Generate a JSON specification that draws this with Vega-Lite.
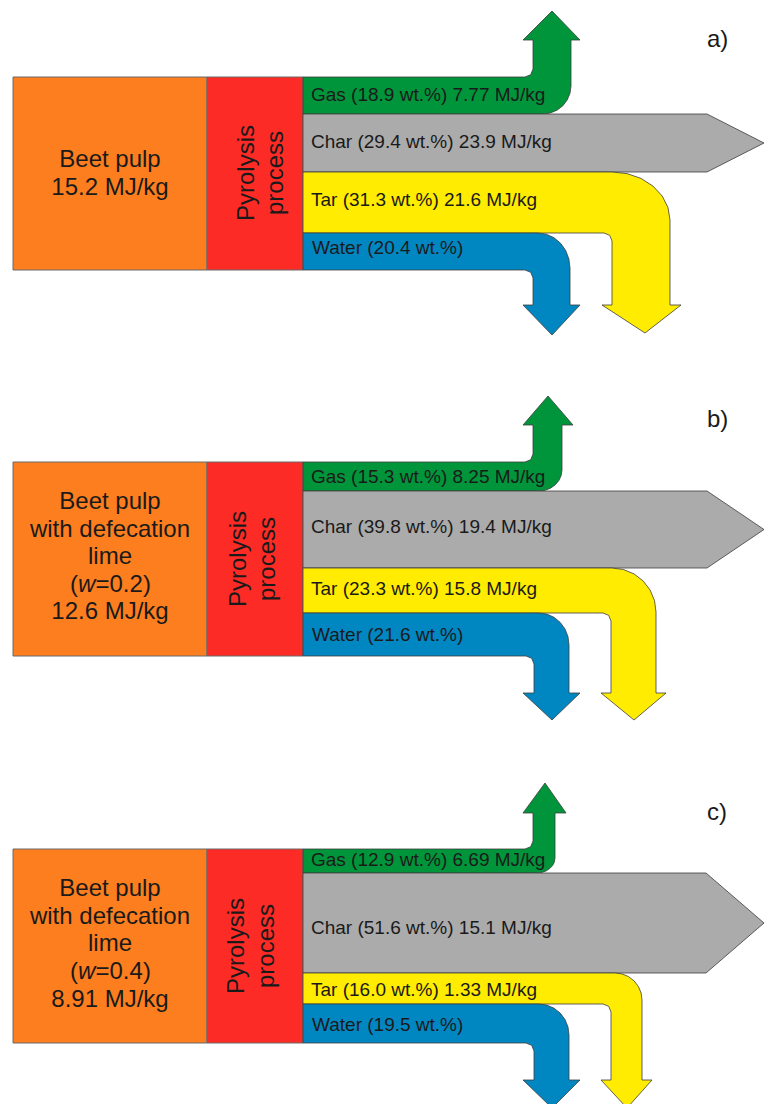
{
"$schema": "https://vega.github.io/schema/vega-lite/v6.json",
"width": 764, "height": 1104,
"autosize": {"type": "none"},
"padding": 0,
"background": "white",
"config": {"view": {"stroke": null}},
"datasets": {
"boxes": [
{"part":"feed","x":13,"x2":207,"y":77,"y2":270},
{"part":"process","x":207,"x2":303,"y":77,"y2":270},
{"part":"feed","x":13,"x2":207,"y":462,"y2":656},
{"part":"process","x":207,"x2":303,"y":462,"y2":656},
{"part":"feed","x":13,"x2":207,"y":849,"y2":1043},
{"part":"process","x":207,"x2":303,"y":849,"y2":1043}
],
"poly": [
{"shape":"a_gas","part":"Gas","i":0,"x":303,"y":77},
{"shape":"a_gas","part":"Gas","i":1,"x":525,"y":77},
{"shape":"a_gas","part":"Gas","i":2,"x":530.7,"y":74.7},
{"shape":"a_gas","part":"Gas","i":3,"x":533,"y":69},
{"shape":"a_gas","part":"Gas","i":4,"x":533,"y":40},
{"shape":"a_gas","part":"Gas","i":5,"x":523,"y":40},
{"shape":"a_gas","part":"Gas","i":6,"x":552,"y":11},
{"shape":"a_gas","part":"Gas","i":7,"x":580,"y":40},
{"shape":"a_gas","part":"Gas","i":8,"x":571,"y":40},
{"shape":"a_gas","part":"Gas","i":9,"x":571,"y":86},
{"shape":"a_gas","part":"Gas","i":10,"x":570,"y":93.2},
{"shape":"a_gas","part":"Gas","i":11,"x":567.2,"y":100},
{"shape":"a_gas","part":"Gas","i":12,"x":562.8,"y":105.8},
{"shape":"a_gas","part":"Gas","i":13,"x":557,"y":110.2},
{"shape":"a_gas","part":"Gas","i":14,"x":550.2,"y":113},
{"shape":"a_gas","part":"Gas","i":15,"x":543,"y":114},
{"shape":"a_gas","part":"Gas","i":16,"x":303,"y":114},
{"shape":"a_gas","part":"Gas","i":17,"x":303,"y":77},

{"shape":"a_char","part":"Char","i":0,"x":303,"y":114},
{"shape":"a_char","part":"Char","i":1,"x":707,"y":114},
{"shape":"a_char","part":"Char","i":2,"x":764,"y":143},
{"shape":"a_char","part":"Char","i":3,"x":707,"y":172},
{"shape":"a_char","part":"Char","i":4,"x":303,"y":172},
{"shape":"a_char","part":"Char","i":5,"x":303,"y":114},

{"shape":"a_tar","part":"Tar","i":0,"x":303,"y":172},
{"shape":"a_tar","part":"Tar","i":1,"x":612,"y":172},
{"shape":"a_tar","part":"Tar","i":2,"x":627,"y":173.6},
{"shape":"a_tar","part":"Tar","i":3,"x":641,"y":178.4},
{"shape":"a_tar","part":"Tar","i":4,"x":653,"y":186.1},
{"shape":"a_tar","part":"Tar","i":5,"x":662.2,"y":196},
{"shape":"a_tar","part":"Tar","i":6,"x":668,"y":207.6},
{"shape":"a_tar","part":"Tar","i":7,"x":670,"y":220},
{"shape":"a_tar","part":"Tar","i":8,"x":670,"y":305},
{"shape":"a_tar","part":"Tar","i":9,"x":681,"y":305},
{"shape":"a_tar","part":"Tar","i":10,"x":645,"y":333},
{"shape":"a_tar","part":"Tar","i":11,"x":602,"y":305},
{"shape":"a_tar","part":"Tar","i":12,"x":612,"y":305},
{"shape":"a_tar","part":"Tar","i":13,"x":612,"y":241},
{"shape":"a_tar","part":"Tar","i":14,"x":609.7,"y":235.3},
{"shape":"a_tar","part":"Tar","i":15,"x":604,"y":233},
{"shape":"a_tar","part":"Tar","i":16,"x":303,"y":233},
{"shape":"a_tar","part":"Tar","i":17,"x":303,"y":172},

{"shape":"a_water","part":"Water","i":0,"x":303,"y":233},
{"shape":"a_water","part":"Water","i":1,"x":538,"y":233},
{"shape":"a_water","part":"Water","i":2,"x":546.3,"y":234.2},
{"shape":"a_water","part":"Water","i":3,"x":554,"y":237.7},
{"shape":"a_water","part":"Water","i":4,"x":560.6,"y":243.3},
{"shape":"a_water","part":"Water","i":5,"x":565.7,"y":250.5},
{"shape":"a_water","part":"Water","i":6,"x":568.9,"y":259},
{"shape":"a_water","part":"Water","i":7,"x":570,"y":268},
{"shape":"a_water","part":"Water","i":8,"x":570,"y":305},
{"shape":"a_water","part":"Water","i":9,"x":580,"y":305},
{"shape":"a_water","part":"Water","i":10,"x":552,"y":335},
{"shape":"a_water","part":"Water","i":11,"x":523,"y":305},
{"shape":"a_water","part":"Water","i":12,"x":533,"y":305},
{"shape":"a_water","part":"Water","i":13,"x":533,"y":278},
{"shape":"a_water","part":"Water","i":14,"x":530.7,"y":272.3},
{"shape":"a_water","part":"Water","i":15,"x":525,"y":270},
{"shape":"a_water","part":"Water","i":16,"x":303,"y":270},
{"shape":"a_water","part":"Water","i":17,"x":303,"y":233},

{"shape":"b_gas","part":"Gas","i":0,"x":303,"y":462},
{"shape":"b_gas","part":"Gas","i":1,"x":525,"y":462},
{"shape":"b_gas","part":"Gas","i":2,"x":530.7,"y":459.7},
{"shape":"b_gas","part":"Gas","i":3,"x":533,"y":454},
{"shape":"b_gas","part":"Gas","i":4,"x":533,"y":425},
{"shape":"b_gas","part":"Gas","i":5,"x":523,"y":425},
{"shape":"b_gas","part":"Gas","i":6,"x":548,"y":396},
{"shape":"b_gas","part":"Gas","i":7,"x":573,"y":425},
{"shape":"b_gas","part":"Gas","i":8,"x":562,"y":425},
{"shape":"b_gas","part":"Gas","i":9,"x":562,"y":470},
{"shape":"b_gas","part":"Gas","i":10,"x":561.2,"y":475.4},
{"shape":"b_gas","part":"Gas","i":11,"x":558.9,"y":480.5},
{"shape":"b_gas","part":"Gas","i":12,"x":555.3,"y":484.8},
{"shape":"b_gas","part":"Gas","i":13,"x":550.5,"y":488.2},
{"shape":"b_gas","part":"Gas","i":14,"x":545,"y":490.3},
{"shape":"b_gas","part":"Gas","i":15,"x":539,"y":491},
{"shape":"b_gas","part":"Gas","i":16,"x":303,"y":491},
{"shape":"b_gas","part":"Gas","i":17,"x":303,"y":462},

{"shape":"b_char","part":"Char","i":0,"x":303,"y":491},
{"shape":"b_char","part":"Char","i":1,"x":707,"y":491},
{"shape":"b_char","part":"Char","i":2,"x":764,"y":529.5},
{"shape":"b_char","part":"Char","i":3,"x":707,"y":568},
{"shape":"b_char","part":"Char","i":4,"x":303,"y":568},
{"shape":"b_char","part":"Char","i":5,"x":303,"y":491},

{"shape":"b_tar","part":"Tar","i":0,"x":303,"y":568},
{"shape":"b_tar","part":"Tar","i":1,"x":612,"y":568},
{"shape":"b_tar","part":"Tar","i":2,"x":623.4,"y":569.5},
{"shape":"b_tar","part":"Tar","i":3,"x":634,"y":573.9},
{"shape":"b_tar","part":"Tar","i":4,"x":643.1,"y":580.9},
{"shape":"b_tar","part":"Tar","i":5,"x":650.1,"y":590},
{"shape":"b_tar","part":"Tar","i":6,"x":654.5,"y":600.6},
{"shape":"b_tar","part":"Tar","i":7,"x":656,"y":612},
{"shape":"b_tar","part":"Tar","i":8,"x":656,"y":693},
{"shape":"b_tar","part":"Tar","i":9,"x":666,"y":693},
{"shape":"b_tar","part":"Tar","i":10,"x":634,"y":720},
{"shape":"b_tar","part":"Tar","i":11,"x":601,"y":693},
{"shape":"b_tar","part":"Tar","i":12,"x":611,"y":693},
{"shape":"b_tar","part":"Tar","i":13,"x":611,"y":621},
{"shape":"b_tar","part":"Tar","i":14,"x":608.7,"y":615.3},
{"shape":"b_tar","part":"Tar","i":15,"x":603,"y":613},
{"shape":"b_tar","part":"Tar","i":16,"x":303,"y":613},
{"shape":"b_tar","part":"Tar","i":17,"x":303,"y":568},

{"shape":"b_water","part":"Water","i":0,"x":303,"y":613},
{"shape":"b_water","part":"Water","i":1,"x":539,"y":613},
{"shape":"b_water","part":"Water","i":2,"x":546.8,"y":614.1},
{"shape":"b_water","part":"Water","i":3,"x":554,"y":617.3},
{"shape":"b_water","part":"Water","i":4,"x":560.2,"y":622.4},
{"shape":"b_water","part":"Water","i":5,"x":565,"y":629},
{"shape":"b_water","part":"Water","i":6,"x":568,"y":636.7},
{"shape":"b_water","part":"Water","i":7,"x":569,"y":645},
{"shape":"b_water","part":"Water","i":8,"x":569,"y":693},
{"shape":"b_water","part":"Water","i":9,"x":580,"y":693},
{"shape":"b_water","part":"Water","i":10,"x":552,"y":720},
{"shape":"b_water","part":"Water","i":11,"x":523,"y":693},
{"shape":"b_water","part":"Water","i":12,"x":534,"y":693},
{"shape":"b_water","part":"Water","i":13,"x":534,"y":664},
{"shape":"b_water","part":"Water","i":14,"x":531.7,"y":658.3},
{"shape":"b_water","part":"Water","i":15,"x":526,"y":656},
{"shape":"b_water","part":"Water","i":16,"x":303,"y":656},
{"shape":"b_water","part":"Water","i":17,"x":303,"y":613},

{"shape":"c_gas","part":"Gas","i":0,"x":303,"y":849},
{"shape":"c_gas","part":"Gas","i":1,"x":525,"y":849},
{"shape":"c_gas","part":"Gas","i":2,"x":530.7,"y":846.7},
{"shape":"c_gas","part":"Gas","i":3,"x":533,"y":841},
{"shape":"c_gas","part":"Gas","i":4,"x":533,"y":813},
{"shape":"c_gas","part":"Gas","i":5,"x":523,"y":813},
{"shape":"c_gas","part":"Gas","i":6,"x":545,"y":783},
{"shape":"c_gas","part":"Gas","i":7,"x":566,"y":813},
{"shape":"c_gas","part":"Gas","i":8,"x":555,"y":813},
{"shape":"c_gas","part":"Gas","i":9,"x":555,"y":858},
{"shape":"c_gas","part":"Gas","i":10,"x":554.4,"y":861.9},
{"shape":"c_gas","part":"Gas","i":11,"x":552.6,"y":865.5},
{"shape":"c_gas","part":"Gas","i":12,"x":549.7,"y":868.6},
{"shape":"c_gas","part":"Gas","i":13,"x":546,"y":871},
{"shape":"c_gas","part":"Gas","i":14,"x":541.7,"y":872.5},
{"shape":"c_gas","part":"Gas","i":15,"x":537,"y":873},
{"shape":"c_gas","part":"Gas","i":16,"x":303,"y":873},
{"shape":"c_gas","part":"Gas","i":17,"x":303,"y":849},

{"shape":"c_char","part":"Char","i":0,"x":303,"y":873},
{"shape":"c_char","part":"Char","i":1,"x":706,"y":873},
{"shape":"c_char","part":"Char","i":2,"x":764,"y":923},
{"shape":"c_char","part":"Char","i":3,"x":706,"y":973},
{"shape":"c_char","part":"Char","i":4,"x":303,"y":973},
{"shape":"c_char","part":"Char","i":5,"x":303,"y":873},

{"shape":"c_tar","part":"Tar","i":0,"x":303,"y":973},
{"shape":"c_tar","part":"Tar","i":1,"x":615,"y":973},
{"shape":"c_tar","part":"Tar","i":2,"x":622,"y":973.9},
{"shape":"c_tar","part":"Tar","i":3,"x":628.5,"y":976.6},
{"shape":"c_tar","part":"Tar","i":4,"x":634.1,"y":980.9},
{"shape":"c_tar","part":"Tar","i":5,"x":638.4,"y":986.5},
{"shape":"c_tar","part":"Tar","i":6,"x":641.1,"y":993},
{"shape":"c_tar","part":"Tar","i":7,"x":642,"y":1000},
{"shape":"c_tar","part":"Tar","i":8,"x":642,"y":1080},
{"shape":"c_tar","part":"Tar","i":9,"x":652,"y":1080},
{"shape":"c_tar","part":"Tar","i":10,"x":627,"y":1108},
{"shape":"c_tar","part":"Tar","i":11,"x":601,"y":1080},
{"shape":"c_tar","part":"Tar","i":12,"x":611,"y":1080},
{"shape":"c_tar","part":"Tar","i":13,"x":611,"y":1012},
{"shape":"c_tar","part":"Tar","i":14,"x":608.7,"y":1006.3},
{"shape":"c_tar","part":"Tar","i":15,"x":603,"y":1004},
{"shape":"c_tar","part":"Tar","i":16,"x":303,"y":1004},
{"shape":"c_tar","part":"Tar","i":17,"x":303,"y":973},

{"shape":"c_water","part":"Water","i":0,"x":303,"y":1004},
{"shape":"c_water","part":"Water","i":1,"x":539,"y":1004},
{"shape":"c_water","part":"Water","i":2,"x":546.8,"y":1005.1},
{"shape":"c_water","part":"Water","i":3,"x":554,"y":1008.2},
{"shape":"c_water","part":"Water","i":4,"x":560.2,"y":1013.1},
{"shape":"c_water","part":"Water","i":5,"x":565,"y":1019.5},
{"shape":"c_water","part":"Water","i":6,"x":568,"y":1027},
{"shape":"c_water","part":"Water","i":7,"x":569,"y":1035},
{"shape":"c_water","part":"Water","i":8,"x":569,"y":1080},
{"shape":"c_water","part":"Water","i":9,"x":580,"y":1080},
{"shape":"c_water","part":"Water","i":10,"x":552,"y":1108},
{"shape":"c_water","part":"Water","i":11,"x":523,"y":1080},
{"shape":"c_water","part":"Water","i":12,"x":534,"y":1080},
{"shape":"c_water","part":"Water","i":13,"x":534,"y":1051},
{"shape":"c_water","part":"Water","i":14,"x":531.7,"y":1045.3},
{"shape":"c_water","part":"Water","i":15,"x":526,"y":1043},
{"shape":"c_water","part":"Water","i":16,"x":303,"y":1043},
{"shape":"c_water","part":"Water","i":17,"x":303,"y":1004}
],
"texts": [
{"kind":"box","text":"Beet pulp","x":110,"y":160},
{"kind":"box","text":"15.2 MJ/kg","x":110,"y":188},
{"kind":"box","text":"Beet pulp","x":110,"y":502},
{"kind":"box","text":"with defecation","x":110,"y":529.5},
{"kind":"box","text":"lime","x":110,"y":557},
{"kind":"box","text":"12.6 MJ/kg","x":110,"y":612},
{"kind":"box","text":"Beet pulp","x":110,"y":889},
{"kind":"box","text":"with defecation","x":110,"y":917},
{"kind":"box","text":"lime","x":110,"y":944},
{"kind":"box","text":"8.91 MJ/kg","x":110,"y":1000},
{"kind":"left","text":"(","x":70,"y":584.5},
{"kind":"left","text":"=0.2)","x":95.5,"y":584.5},
{"kind":"left","text":"(","x":70,"y":972},
{"kind":"left","text":"=0.4)","x":95.5,"y":972},
{"kind":"left","text":"a)","x":707,"y":40},
{"kind":"left","text":"b)","x":707,"y":420},
{"kind":"left","text":"c)","x":707,"y":813},
{"kind":"ital","text":"w","x":78,"y":584.5},
{"kind":"ital","text":"w","x":78,"y":972},
{"kind":"rot","text":"Pyrolysis","x":247,"y":173},
{"kind":"rot","text":"process","x":276,"y":173},
{"kind":"rot","text":"Pyrolysis","x":239,"y":559},
{"kind":"rot","text":"process","x":268,"y":559},
{"kind":"rot","text":"Pyrolysis","x":237,"y":946},
{"kind":"rot","text":"process","x":267,"y":946},
{"kind":"flow","text":"Gas (18.9 wt.%) 7.77 MJ/kg","x":311,"y":95},
{"kind":"flow","text":"Char (29.4 wt.%) 23.9 MJ/kg","x":311,"y":142},
{"kind":"flow","text":"Tar (31.3 wt.%) 21.6 MJ/kg","x":311,"y":200},
{"kind":"flow","text":"Water (20.4 wt.%)","x":312,"y":248},
{"kind":"flow","text":"Gas (15.3 wt.%) 8.25 MJ/kg","x":311,"y":477},
{"kind":"flow","text":"Char (39.8 wt.%) 19.4 MJ/kg","x":311,"y":527},
{"kind":"flow","text":"Tar (23.3 wt.%) 15.8 MJ/kg","x":311,"y":589},
{"kind":"flow","text":"Water (21.6 wt.%)","x":312,"y":635},
{"kind":"flow","text":"Gas (12.9 wt.%) 6.69 MJ/kg","x":311,"y":860},
{"kind":"flow","text":"Char (51.6 wt.%) 15.1 MJ/kg","x":311,"y":928},
{"kind":"flow","text":"Tar (16.0 wt.%) 1.33 MJ/kg","x":311,"y":990},
{"kind":"flow","text":"Water (19.5 wt.%)","x":312,"y":1025}
]
},
"encoding": {
"x": {"field": "x", "type": "quantitative", "scale": {"domain": [0, 764], "nice": false, "zero": false}, "axis": null},
"y": {"field": "y", "type": "quantitative", "scale": {"domain": [0, 1104], "reverse": true, "nice": false, "zero": false}, "axis": null}
},
"layer": [
{
"data": {"name": "boxes"},
"mark": {"type": "rect", "stroke": "#6b6b6b", "strokeWidth": 1},
"encoding": {
"x2": {"field": "x2"},
"y2": {"field": "y2"},
"fill": {"field": "part", "type": "nominal", "legend": null, "scale": {"domain": ["feed","process","Gas","Char","Tar","Water"], "range": ["#FC7E1F","#FD2B26","#00953A","#ABABAB","#FFEC00","#0087C1"]}}
}
},
{
"data": {"name": "poly"},
"mark": {"type": "line", "stroke": "#3c3c3c", "strokeWidth": 0.8, "strokeJoin": "miter"},
"encoding": {
"detail": {"field": "shape", "type": "nominal"},
"order": {"field": "i", "type": "quantitative"},
"fill": {"field": "part", "type": "nominal", "legend": null, "scale": {"domain": ["feed","process","Gas","Char","Tar","Water"], "range": ["#FC7E1F","#FD2B26","#00953A","#ABABAB","#FFEC00","#0087C1"]}}
}
},
{
"data": {"name": "texts"},
"transform": [{"filter": "datum.kind === 'box'"}],
"mark": {"type": "text", "font": "Liberation Sans", "fontSize": 24, "align": "center", "baseline": "middle", "fill": "#1a1a1a"},
"encoding": {"text": {"field": "text"}}
},
{
"data": {"name": "texts"},
"transform": [{"filter": "datum.kind === 'left'"}],
"mark": {"type": "text", "font": "Liberation Sans", "fontSize": 24, "align": "left", "baseline": "middle", "fill": "#1a1a1a"},
"encoding": {"text": {"field": "text"}}
},
{
"data": {"name": "texts"},
"transform": [{"filter": "datum.kind === 'ital'"}],
"mark": {"type": "text", "font": "Liberation Sans", "fontSize": 24, "fontStyle": "italic", "align": "left", "baseline": "middle", "fill": "#1a1a1a"},
"encoding": {"text": {"field": "text"}}
},
{
"data": {"name": "texts"},
"transform": [{"filter": "datum.kind === 'rot'"}],
"mark": {"type": "text", "font": "Liberation Sans", "fontSize": 24, "align": "center", "baseline": "middle", "angle": 270, "fill": "#1a1a1a"},
"encoding": {"text": {"field": "text"}}
},
{
"data": {"name": "texts"},
"transform": [{"filter": "datum.kind === 'flow'"}],
"mark": {"type": "text", "font": "Liberation Sans", "fontSize": 19, "align": "left", "baseline": "middle", "fill": "#1a1a1a"},
"encoding": {"text": {"field": "text"}}
}
]
}
